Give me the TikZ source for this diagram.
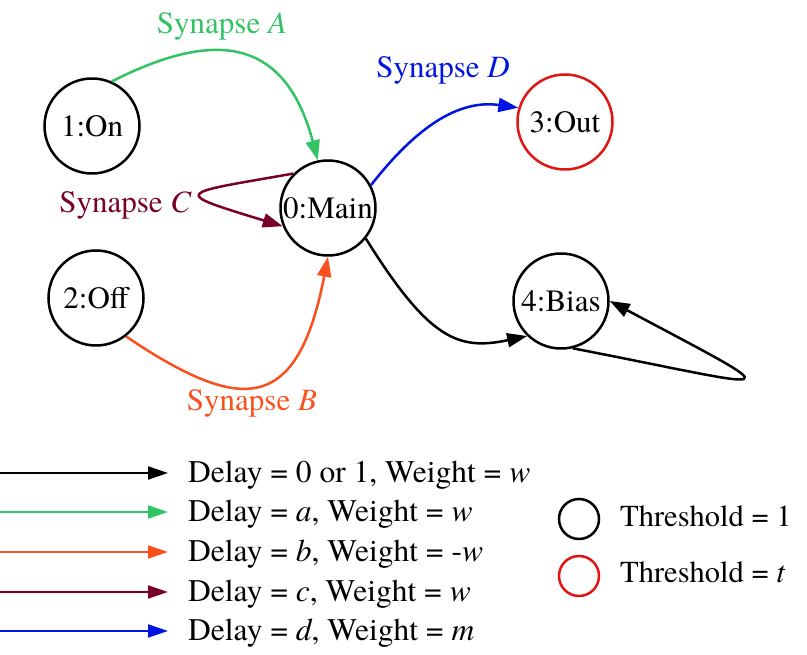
\documentclass[tikz,border=0pt]{standalone}
\usepackage{fontspec}
\setmainfont{texgyretermes}[Extension=.otf,UprightFont=*-regular,ItalicFont=*-italic,BoldFont=*-bold]
\usetikzlibrary{arrows.meta}
\definecolor{synA}{RGB}{50,195,100}
\definecolor{synB}{RGB}{250,80,30}
\definecolor{synC}{RGB}{120,0,40}
\definecolor{synD}{RGB}{0,20,225}
\definecolor{thred}{RGB}{225,20,20}

\begin{document}
\begin{tikzpicture}[x=1pt,y=1pt,
 neuron/.style={circle,draw,line width=2.5pt,minimum size=95pt,inner sep=0pt,font=\fontsize{31}{37}\selectfont},
 synlbl/.style={font=\fontsize{31}{37}\selectfont,anchor=base,inner sep=0pt},
 syn/.style={line width=2.5pt,-{Triangle[length=20pt,width=14pt]}},
 key/.style={line width=2pt,shorten >=20pt,-{Triangle[length=20pt,width=13pt]}},
 keytxt/.style={font=\fontsize{31.5}{37}\selectfont,anchor=base west,inner sep=0pt},
 thr/.style={circle,draw,line width=2.5pt,minimum size=40pt,inner sep=0pt}]
 \useasboundingbox (0,0) rectangle (807,655);
 \node[neuron] (main) at (328,447) {0:Main};
 \node[neuron] (on) at (92,529) {1:On};
 \node[neuron] (off) at (96,357) {2:Off};
 \node[neuron,draw=thred] (out) at (565,533) {3:Out};
 \node[neuron] (bias) at (561,354) {4:Bias};

 \draw[syn,synA] (on.66) to[out=27,in=105,out distance=120pt,in distance=124pt] (main.102);
 \node[synlbl,synA] (labA) at (222,621) {Synapse \textit{A}};
 \draw[syn,synD] (main.28) to[out=52,in=172,out distance=75pt,in distance=60pt] (out.163);
 \node[synlbl,synD] (labD) at (443,577) {Synapse \textit{D}};
 \draw[syn,synC] (main.135) to[out=190,in=163,out distance=119pt,in distance=119pt] (main.202);
 \node[synlbl,synC,anchor=base east] (labC) at (192,442) {Synapse \textit{C}};
 \draw[syn,synB] (off.-52) to[out=-34,in=259,out distance=140pt,in distance=160pt] (main.-90);
 \node[synlbl,synB] (labB) at (252,244) {Synapse \textit{B}};
 \draw[syn] (main.-39) to[out=-58,in=192,out distance=120pt,in distance=70pt] (bias.226);
 \draw[syn] (bias.-76) to[out=-11,in=-28,out distance=215pt,in distance=215pt] (bias.0);

 %%%%%%%%%%%%%%%%%%%%%%%%%%%%%%%%%%%

 \node[keytxt] (d0) at (188,172) {Delay = 0 or 1, Weight = \textit{w}};
 \node[keytxt] (da) at (188,133) {Delay = \textit{a}, Weight = \textit{w}};
 \node[keytxt] (db) at (188,93) {Delay = \textit{b}, Weight = -\textit{w}};
 \node[keytxt] (dc) at (188,53) {Delay = \textit{c}, Weight = \textit{w}};
 \node[keytxt] (dd) at (188,14) {Delay = \textit{d}, Weight = \textit{m}};
 \coordinate (k0) at (0,182);
 \coordinate (ka) at (0,143);
 \coordinate (kb) at (0,103);
 \coordinate (kc) at (0,63);
 \coordinate (kd) at (0,24);
 \draw[key] (k0) -- (k0 -| d0.west);
 \draw[key,synA] (ka) -- (ka -| da.west);
 \draw[key,synB] (kb) -- (kb -| db.west);
 \draw[key,synC] (kc) -- (kc -| dc.west);
 \draw[key,synD] (kd) -- (kd -| dd.west);

 \node[thr] (th1) at (579,136) {};
 \node[thr,draw=thred] (tht) at (579,79) {};
 \node[keytxt,font=\fontsize{30.5}{36}\selectfont] (t1) at (620,128) {Threshold = 1};
 \node[keytxt,font=\fontsize{30.5}{36}\selectfont] (tt) at (620,72) {Threshold = \textit{t}};
\end{tikzpicture}
\end{document}
